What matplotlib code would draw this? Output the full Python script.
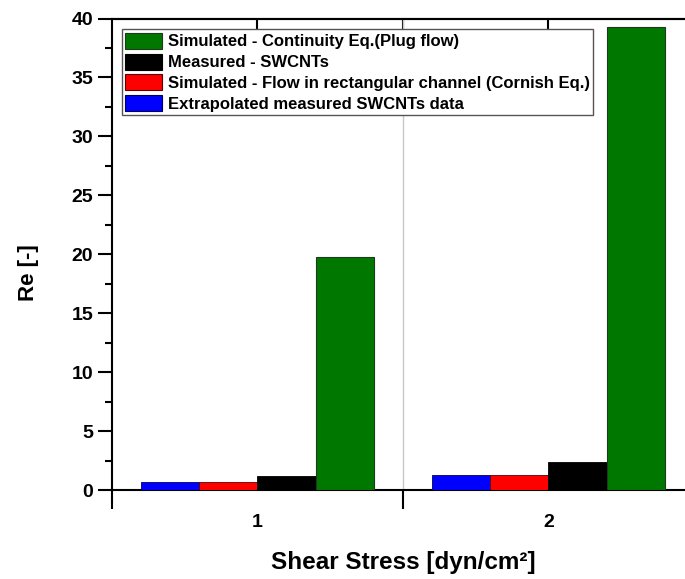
import matplotlib
matplotlib.use('Agg')
import matplotlib.pyplot as plt
import numpy as np

plt.rcParams['font.family'] = ['Liberation Sans', 'DejaVu Sans']
plt.rcParams['font.weight'] = 'bold'

# data
stress = [1, 2]
extrapolated = [0.7, 1.3]    # blue
cornish = [0.65, 1.3]        # red
measured = [1.2, 2.4]        # black
plug_flow = [19.8, 39.3]     # green

fig = plt.figure(figsize=(6.85, 5.79), dpi=100)
ax = fig.add_axes([0.1635, 0.1537, 0.8496, 0.8143])

x = np.array(stress, dtype=float)
w = 0.2
ax.bar(x - 1.5 * w, extrapolated, w, color='#0000ff', edgecolor='#00005a', linewidth=0.6, zorder=3)
ax.bar(x - 0.5 * w, cornish, w, color='#ff0000', edgecolor='#5a0000', linewidth=0.6, zorder=3)
ax.bar(x + 0.5 * w, measured, w, color='#000000', edgecolor='#000000', linewidth=0.6, zorder=3)
ax.bar(x + 1.5 * w, plug_flow, w, color='#007800', edgecolor='#1e3a1e', linewidth=0.8, zorder=3)

# separator between the two groups
ax.axvline(1.5, color='#c8c8c8', lw=1, zorder=1)

ax.set_xlim(0.5, 2.5)
ax.set_ylim(0, 40)

for s in ax.spines.values():
    s.set_linewidth(1.5)

# x axis: ticks at group borders, labels at group centres
ax.set_xticks([0.5, 1.5])
ax.set_xticklabels(['', ''])
ax.set_xticks(stress, minor=True)
ax.set_xticklabels([str(s) for s in stress], minor=True)
ax.tick_params(axis='x', which='major', direction='out', length=14, width=1.5)
ax.tick_params(axis='x', which='minor', length=0, pad=17, labelsize=14)

ax.set_yticks(np.arange(0, 41, 5))
ax.set_yticks(np.arange(2.5, 40, 5), minor=True)
ax.tick_params(axis='y', which='major', direction='out', length=10, width=1.5, labelsize=14)
ax.tick_params(axis='y', which='minor', direction='out', length=5, width=1.5)

top = ax.secondary_xaxis('top')
top.set_xticks([1, 1.5, 2])
top.set_xticklabels(['', '', ''])
top.tick_params(direction='in', length=8, width=1.5)
top.spines['top'].set_linewidth(1.5)

ax.set_xlabel('Shear Stress [dyn/cm²]', fontsize=17.5, fontweight='bold', labelpad=15)
ax.set_ylabel('Re [-]', fontsize=16, fontweight='bold')
ax.yaxis.set_label_coords(-0.126, 0.462)

handles = [
    plt.Rectangle((0, 0), 1, 1, fc='#007800', ec='#1e3a1e', lw=0.8),
    plt.Rectangle((0, 0), 1, 1, fc='#000000', ec='#000000', lw=0.8),
    plt.Rectangle((0, 0), 1, 1, fc='#ff0000', ec='#5a0000', lw=0.8),
    plt.Rectangle((0, 0), 1, 1, fc='#0000ff', ec='#00005a', lw=0.8),
]
labels = [
    'Simulated - Continuity Eq.(Plug flow)',
    'Measured - SWCNTs',
    'Simulated - Flow in rectangular channel (Cornish Eq.)',
    'Extrapolated measured SWCNTs data',
]
leg = ax.legend(handles, labels, loc='upper left', bbox_to_anchor=(0.017, 0.977),
                fontsize=12, frameon=True, fancybox=False, edgecolor='#555555',
                framealpha=1, handlelength=2.2, handleheight=1.1, handletextpad=0.35,
                labelspacing=0.25, borderpad=0.2, borderaxespad=0)
leg.get_frame().set_linewidth(1)

plt.savefig('out.png', dpi=100)
